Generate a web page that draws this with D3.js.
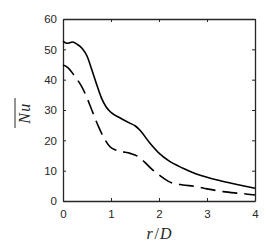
<!DOCTYPE html>
<html>
<head>
<meta charset="utf-8">
<script src="https://cdn.jsdelivr.net/npm/d3@7"></script>
<style>
  body { margin: 0; background: #fff; }
  svg { display: block; }
</style>
</head>
<body>
<div id="chart"></div>
<script>
// DATA
const rSolid = [0, 0.08, 0.2, 0.3, 0.4, 0.5, 0.6, 0.7, 0.8, 0.9, 1.0, 1.2, 1.4, 1.5, 1.6, 1.8, 2.0, 2.2, 2.5, 2.75, 3.0, 3.34, 3.7, 4.0];
const nuSolid = [52.7, 52.0, 52.4, 51.6, 50.3, 47.8, 43.3, 38.5, 34.0, 31.0, 29.2, 27.3, 25.6, 24.8, 23.4, 19.3, 15.8, 13.3, 10.8, 9.1, 7.8, 6.4, 5.2, 4.2];
const rDashed = [0, 0.1, 0.25, 0.39, 0.5, 0.6, 0.74, 0.84, 0.98, 1.1, 1.22, 1.4, 1.57, 1.7, 1.85, 2.0, 2.26, 2.5, 2.75, 3.0, 3.34, 3.7, 4.0];
const nuDashed = [44.8, 44.0, 41.0, 37.7, 34.0, 30.0, 24.5, 21.2, 17.9, 16.8, 16.3, 15.7, 14.6, 12.8, 10.5, 8.6, 6.0, 5.3, 4.8, 4.0, 3.1, 2.5, 2.0];
const xTicks = [0, 1, 2, 3, 4];
const yTicks = [0, 10, 20, 30, 40, 50, 60];

const W = 266, H = 251;
const margin = { top: 19, right: 11, bottom: 50, left: 63 };
const width = W - margin.left - margin.right;
const height = H - margin.top - margin.bottom;
const axisColor = "#262626";

const svg = d3.select("#chart")
  .append("svg")
  .attr("width", W)
  .attr("height", H);

const g = svg.append("g")
  .attr("transform", `translate(${margin.left},${margin.top})`);

const x = d3.scaleLinear().domain([0, 4]).range([0, width]);
const y = d3.scaleLinear().domain([0, 60]).range([height, 0]);

// Axes (ticks inward, box on)
const tickFont = "'Liberation Sans', Arial, sans-serif";
const xAxis = g.append("g")
  .attr("transform", `translate(0,${height})`)
  .call(d3.axisBottom(x).tickValues(xTicks).tickFormat(d3.format("d"))
    .tickSizeInner(-3).tickSizeOuter(0).tickPadding(9));
const yAxis = g.append("g")
  .call(d3.axisLeft(y).tickValues(yTicks).tickFormat(d3.format("d"))
    .tickSizeInner(-3).tickSizeOuter(0).tickPadding(6));
const xTop = g.append("g")
  .call(d3.axisTop(x).tickValues(xTicks).tickSizeInner(-3).tickSizeOuter(0).tickFormat(""));
const yRight = g.append("g")
  .attr("transform", `translate(${width},0)`)
  .call(d3.axisRight(y).tickValues(yTicks).tickSizeInner(-3).tickSizeOuter(0).tickFormat(""));

[xAxis, yAxis, xTop, yRight].forEach(a => {
  a.selectAll("path.domain").attr("stroke", axisColor).attr("stroke-width", 1.3);
  a.selectAll(".tick line").attr("stroke", axisColor).attr("stroke-width", 1);
  a.selectAll(".tick text")
    .attr("fill", axisColor)
    .style("font-family", tickFont)
    .style("font-size", "11.5px");
});

// Lines
const line = d3.line()
  .curve(d3.curveMonotoneX)
  .x(d => x(d[0]))
  .y(d => y(d[1]));

g.append("path")
  .datum(rSolid.map((r, i) => [r, nuSolid[i]]))
  .attr("fill", "none")
  .attr("stroke", "#000")
  .attr("stroke-width", 1.6)
  .attr("d", line);

g.append("path")
  .datum(rDashed.map((r, i) => [r, nuDashed[i]]))
  .attr("fill", "none")
  .attr("stroke", "#000")
  .attr("stroke-width", 1.6)
  .attr("stroke-dasharray", "15,7")
  .attr("d", line);

// Axis labels
const labelFont = "'Liberation Serif', 'DejaVu Serif', serif";
const xl = svg.append("text")
  .attr("x", margin.left + width / 2)
  .attr("y", 239)
  .attr("text-anchor", "middle")
  .style("font-family", labelFont)
  .style("font-size", "16px")
  .attr("fill", axisColor);
xl.append("tspan").style("font-style", "italic").text("r");
xl.append("tspan").attr("dx", 2).text("/");
xl.append("tspan").attr("dx", 1).style("font-style", "italic").text("D");

const yc = margin.top + height / 2 + 3;
svg.append("text")
  .attr("transform", `translate(30,${yc}) rotate(-90)`)
  .attr("text-anchor", "middle")
  .style("font-family", labelFont)
  .style("font-size", "16px")
  .style("font-style", "italic")
  .style("letter-spacing", "1.5px")
  .attr("fill", axisColor)
  .text("Nu");
svg.append("line")
  .attr("x1", 15).attr("x2", 15)
  .attr("y1", yc - 15).attr("y2", yc + 15)
  .attr("stroke", axisColor)
  .attr("stroke-width", 1);
</script>
</body>
</html>
